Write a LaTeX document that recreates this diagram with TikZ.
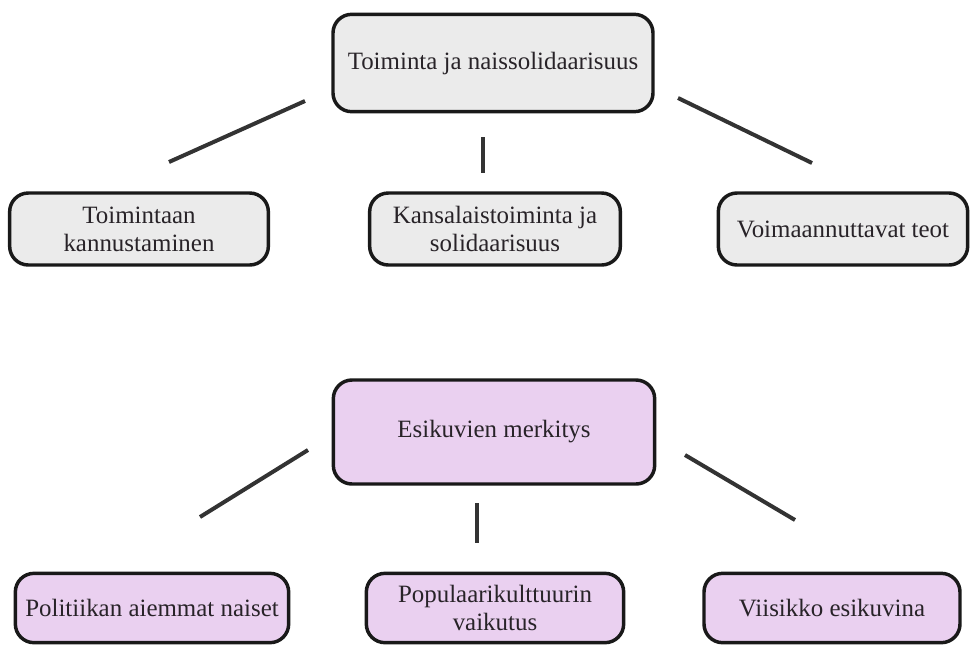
\documentclass[tikz,border=0pt]{standalone}
\usepackage{fontspec}
\setmainfont{Liberation Serif}

\definecolor{boxgray}{RGB}{235,235,235}
\definecolor{boxlilac}{RGB}{234,208,240}
\definecolor{linegray}{RGB}{51,51,51}
\definecolor{textgray}{RGB}{40,35,40}

\tikzset{every picture/.style={line width=0.75pt}}
\tikzset{
  topic/.style={draw=black!90, line width=2.6pt, rounded corners=14pt, align=center,
    inner sep=2pt, font=\fontsize{18.7}{21}\selectfont, text=textgray},
  greybox/.style={topic, fill=boxgray},
  lilacbox/.style={topic, fill=boxlilac},
  spoke/.style={draw=linegray, line width=3pt},
}

\begin{document}
\begin{tikzpicture}[x=0.75pt,y=0.75pt,yscale=-1,xscale=1]
\useasboundingbox (0,0) rectangle (970,644);

%Rounded Rect: upper group
\node [greybox, minimum width=240pt, minimum height=73pt] (toiminta) at (493,63) {Toiminta ja naissolidaarisuus};
\node [greybox, minimum width=194pt, minimum height=54pt] (kannustus) at (139,229) {Toimintaan\\kannustaminen};
\node [greybox, minimum width=188pt, minimum height=54pt] (kansalais) at (495,229) {Kansalaistoiminta ja\\solidaarisuus};
\node [greybox, minimum width=187pt, minimum height=54pt] (voima) at (843,229) {Voimaannuttavat teot};

%Rounded Rect: lower group
\node [lilacbox, minimum width=241pt, minimum height=78pt] (esikuvat) at (494,432) {Esikuvien merkitys};
\node [lilacbox, minimum width=205pt, minimum height=52pt] (politiikka) at (152,608) {Politiikan aiemmat naiset};
\node [lilacbox, minimum width=193pt, minimum height=52pt] (populaari) at (495,608) {Populaarikulttuurin\\vaikutus};
\node [lilacbox, minimum width=192pt, minimum height=52pt] (viisikko) at (832,608) {Viisikko esikuvina};

%Straight Lines: free spokes
\coordinate (t1a) at (305,101);  \coordinate (t1b) at (169,162);
\coordinate (t2a) at (483,137);  \coordinate (t2b) at (483,173);
\coordinate (t3a) at (678,98);   \coordinate (t3b) at (812,163);
\coordinate (b1a) at (308,450);  \coordinate (b1b) at (200,517);
\coordinate (b2a) at (477,503);  \coordinate (b2b) at (477,543);
\coordinate (b3a) at (685,455);  \coordinate (b3b) at (795,520);

\draw [spoke] (t1a) -- (t1b) ;
\draw [spoke] (t2a) -- (t2b) ;
\draw [spoke] (t3a) -- (t3b) ;
\draw [spoke] (b1a) -- (b1b) ;
\draw [spoke] (b2a) -- (b2b) ;
\draw [spoke] (b3a) -- (b3b) ;

\end{tikzpicture}
\end{document}
